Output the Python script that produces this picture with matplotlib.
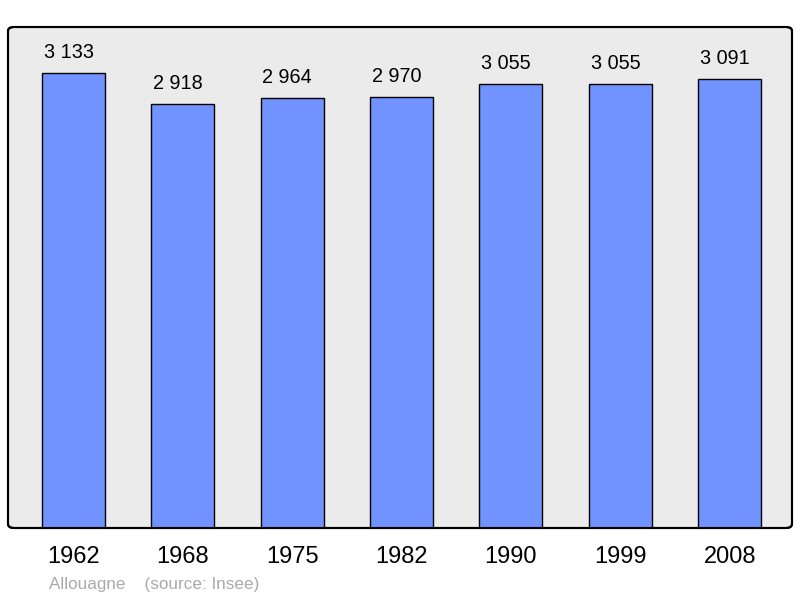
import numpy as np
import matplotlib
matplotlib.use('Agg')
import matplotlib.pyplot as plt
from matplotlib.patches import FancyBboxPatch

# data
years = ['1962', '1968', '1975', '1982', '1990', '1999', '2008']
population = [3133, 2918, 2964, 2970, 3055, 3055, 3091]
value_labels = ['3 133', '2 918', '2 964', '2 970', '3 055', '3 055', '3 091']

plt.rcParams['font.family'] = ['Liberation Sans', 'DejaVu Sans']

fig = plt.figure(figsize=(8, 5.98), dpi=100)
# axes box in pixels: x 8..792, y 27..528
ax = fig.add_axes([8/800, 1 - 528/598, 784/800, 501/598])
ax.set_facecolor('none')

x = np.arange(len(years))
ax.bar(x, population, width=0.576, color='#7093ff', edgecolor='black', linewidth=1.0, zorder=2)

# value labels sit a little left of the bar centre, as in the original
for xi, v, lab in zip(x, population, value_labels):
    ax.annotate(lab, (xi, v), xytext=(-5, 15), textcoords='offset pixels',
                ha='center', va='baseline', fontsize=14.3, color='black')

ax.set_xlim(-0.6, 6.57)
ax.set_ylim(0, 3450)
ax.set_xticks([])
ax.set_yticks([])
for s in ax.spines.values():
    s.set_visible(False)

# rounded frame with grey background
frame = FancyBboxPatch((0, 0), 1, 1, boxstyle='round,pad=0,rounding_size=0.008',
                       transform=ax.transAxes, facecolor='#ebebeb', edgecolor='black',
                       linewidth=1.5, zorder=0, clip_on=False)
ax.add_patch(frame)
frame2 = FancyBboxPatch((0, 0), 1, 1, boxstyle='round,pad=0,rounding_size=0.008',
                        transform=ax.transAxes, facecolor='none', edgecolor='black',
                        linewidth=1.5, zorder=3, clip_on=False)
ax.add_patch(frame2)

# year labels
for xi, yr in zip(x, years):
    ax.text(xi, -29 / 501 * 3450, yr, ha='center', va='center', fontsize=17, color='black')

fig.text(49/800, 1 - 584/598, 'Allouagne    (source: Insee)', ha='left', va='center',
         fontsize=12.3, color='#aaaaaa')

fig.savefig('out.png', dpi=100)
